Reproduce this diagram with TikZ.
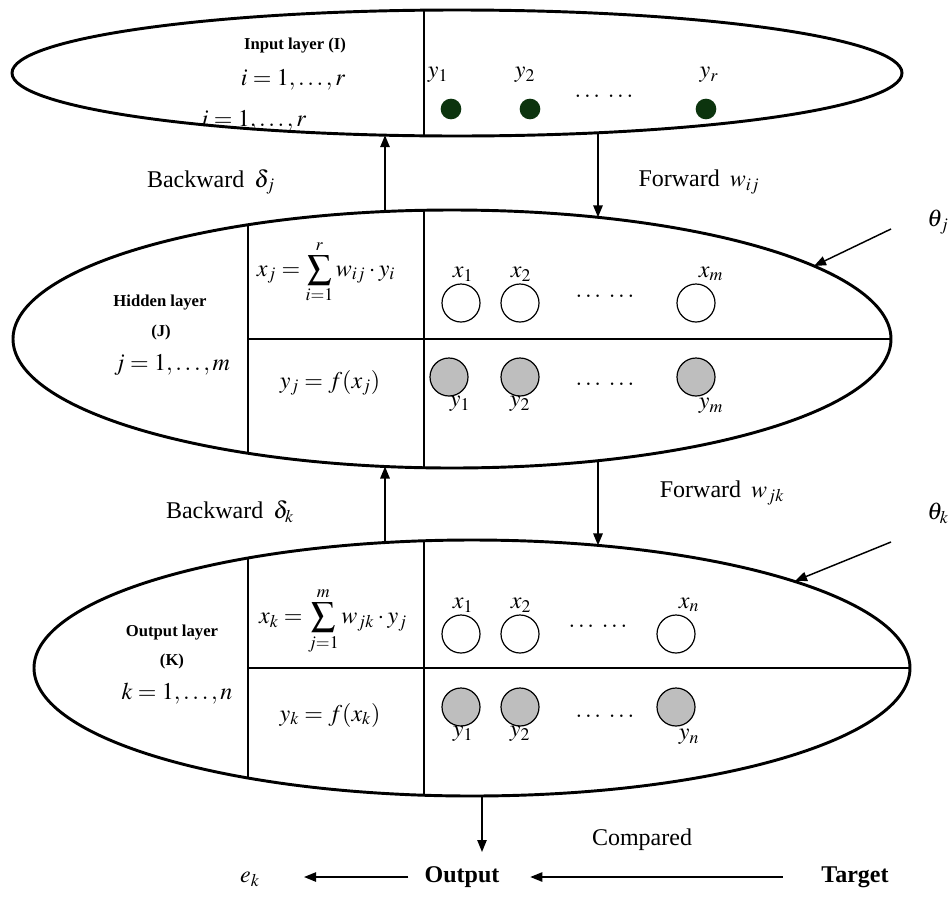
\documentclass[tikz,border=0pt]{standalone}
\usepackage{mathptmx}
\usepackage[no-math]{fontspec}
\setmainfont{Liberation Serif}
\usetikzlibrary{arrows.meta}
\definecolor{dotgreen}{RGB}{12,52,14}
\definecolor{cellgray}{RGB}{190,190,190}
\begin{document}
\begin{tikzpicture}[x=0.75pt,y=-0.75pt,
  every node/.style={font=\fontsize{18}{21}\selectfont, inner sep=1pt},
  layer/.style={line width=2.2pt},
  divider/.style={line width=2pt},
  flow/.style={line width=1.5pt,-{Triangle[length=9pt,width=7pt]}},
  thinflow/.style={line width=1.1pt,-{Triangle[length=9pt,width=7pt]}},
  opencell/.style={circle,draw,line width=0.9pt,minimum size=28.5pt,inner sep=0pt},
  graycell/.style={opencell,fill=cellgray},
  gdot/.style={circle,fill=dotgreen,minimum size=15.5pt,inner sep=0pt},
  lbl/.style={font=\fontsize{12.5}{14}\selectfont\bfseries},
  big/.style={font=\fontsize{18}{21}\selectfont\bfseries}]
\fill[white] (0,0) rectangle (952,896);
\useasboundingbox (0,0) rectangle (952,896);

% ---------- dividers (clipped to each layer) ----------
\begin{scope}
  \clip (457,73) ellipse [x radius=445, y radius=63];
  \draw[divider] (424,0) -- (424,150);
\end{scope}
\begin{scope}
  \clip (452,339) ellipse [x radius=439, y radius=129];
  \draw[divider] (248,200) -- (248,480);
  \draw[divider] (424,200) -- (424,480);
  \draw[divider] (248,339) -- (900,339);
\end{scope}
\begin{scope}
  \clip (472,668) ellipse [x radius=438, y radius=128];
  \draw[divider] (248,530) -- (248,810);
  \draw[divider] (424,530) -- (424,810);
  \draw[divider] (248,668) -- (920,668);
\end{scope}

% ---------- layers ----------
\draw[layer] (457,73) ellipse [x radius=445, y radius=63];
\draw[layer] (452,339) ellipse [x radius=439, y radius=129];
\draw[layer] (472,668) ellipse [x radius=438, y radius=128];

% ---------- input layer ----------
\node[lbl] (inl) at (295,46) {Input layer (I)};
\node (inr) at (293,80) {$i=1,\ldots,r$};
\node (inr2) at (254,121) {$i=1,\ldots,r$};
\node (iy1) at (438,75) {$y_1$};
\node (iy2) at (525,75) {$y_2$};
\node (iyr) at (709,75) {$y_r$};
\node[gdot] (id1) at (451,109) {};
\node[gdot] (id2) at (530,109) {};
\node[gdot] (id3) at (706,109) {};
\node (idots) at (604,96) {$\ldots\;\ldots$};

% ---------- hidden layer ----------
\node[lbl] (hl) at (160,303) {Hidden layer};
\node[lbl] (hj) at (161,332) {(J)};
\node (hm) at (172,365) {$j=1,\ldots,m$};
\node (hsum) at (326,272) {$x_j=\displaystyle\sum_{i=1}^{r} w_{ij}\cdot y_i$};
\node (hf) at (330,383) {$y_j=f(x_j)$};
\node[opencell] (hx1) at (461,303) {};
\node[opencell] (hx2) at (520,303) {};
\node[opencell] (hxm) at (696,303) {};
\node (hx1l) at (463,274) {$x_1$};
\node (hx2l) at (521,274) {$x_2$};
\node (hxml) at (711,274) {$x_m$};
\node (hxd) at (605,296) {$\ldots\;\ldots$};
\node[graycell] (hy1) at (449,377) {};
\node[graycell] (hy2) at (520,377) {};
\node[graycell] (hym) at (696,377) {};
\node (hy1l) at (460,404) {$y_1$};
\node (hy2l) at (520,404) {$y_2$};
\node (hyml) at (711,406) {$y_m$};
\node (hyd) at (605,384) {$\ldots\;\ldots$};

% ---------- output layer ----------
\node[lbl] (ol) at (172,633) {Output layer};
\node[lbl] (ok) at (172,661) {(K)};
\node (on) at (177,694) {$k=1,\ldots,n$};
\node (osum) at (333,621) {$x_k=\displaystyle\sum_{j=1}^{m} w_{jk}\cdot y_j$};
\node (of) at (330,715) {$y_k=f(x_k)$};
\node[opencell] (ox1) at (461,634) {};
\node[opencell] (ox2) at (520,634) {};
\node[opencell] (oxn) at (676,634) {};
\node (ox1l) at (463,605) {$x_1$};
\node (ox2l) at (521,605) {$x_2$};
\node (oxnl) at (689,605) {$x_n$};
\node (oxd) at (598,626) {$\ldots\;\ldots$};
\node[graycell] (oy1) at (461,707) {};
\node[graycell] (oy2) at (520,707) {};
\node[graycell] (oyn) at (676,707) {};
\node (oy1l) at (463,734) {$y_1$};
\node (oy2l) at (520,734) {$y_2$};
\node (oynl) at (689,737) {$y_n$};
\node (oyd) at (605,716) {$\ldots\;\ldots$};

% ---------- flow labels ----------
\node (bj) at (211,182) {Backward\, $\delta_j$};
\node (fj) at (699,182) {Forward\, $w_{ij}$};
\node (bk) at (230,512) {Backward\, $\delta_k$};
\node (fk) at (722,493) {Forward\, $w_{jk}$};
\node (thj) at (938,222) {$\theta_j$};
\node (thk) at (938,513) {$\theta_k$};

% ---------- connector end points on the layers ----------
\coordinate (a1s) at (385,211.5);
\coordinate (a1e) at (385,135.2);
\coordinate (a2s) at (598,132.8);
\coordinate (a2e) at (598,217.3);
\coordinate (a3s) at (385,542.6);
\coordinate (a3e) at (385,466.5);
\coordinate (a4s) at (598,460.7);
\coordinate (a4e) at (598,545.4);
\coordinate (a5s) at (482,796);
\coordinate (a5e) at (482,852);
\coordinate (tjs) at (891,229);
\coordinate (tje) at (814,266);
\coordinate (tks) at (891,542);
\coordinate (tke) at (795,581);

\draw[flow] (a1s) -- (a1e);
\draw[flow] (a2s) -- (a2e);
\draw[flow] (a3s) -- (a3e);
\draw[flow] (a4s) -- (a4e);
\draw[thinflow] (a5s) -- (a5e);
\draw[thinflow] (tjs) -- (tje);
\draw[thinflow] (tks) -- (tke);

% ---------- comparison ----------
\node (cmp) at (642,840) {Compared};
\node[big] (out) at (462,877) {Output};
\node[big] (tgt) at (855,877) {Target};
\node (ek) at (250,879) {$e_k$};
\draw[thinflow, shorten <=28pt, shorten >=22pt] (tgt.west) -- (out.east);
\draw[thinflow, shorten <=11pt, shorten >=32pt] (out.west) -- (out.west -| ek.east);
\end{tikzpicture}
\end{document}
